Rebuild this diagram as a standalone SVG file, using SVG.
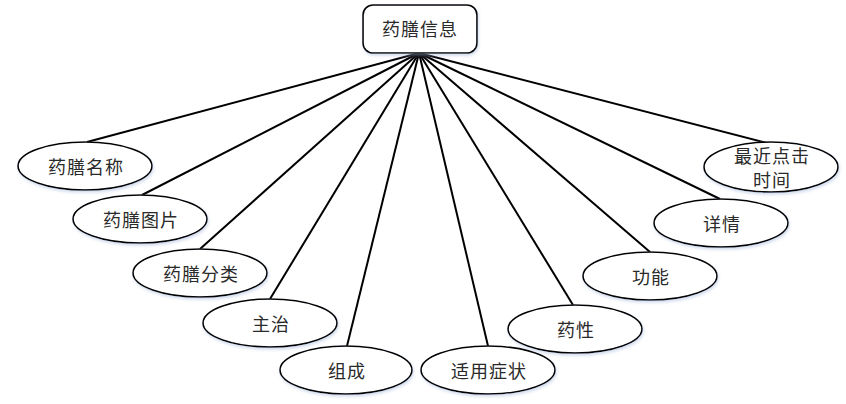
<svg xmlns="http://www.w3.org/2000/svg" width="846" height="404" viewBox="0 0 846 404">
<defs>
<filter id="sh" x="-10%" y="-20%" width="120%" height="150%">
<feDropShadow dx="1" dy="2" stdDeviation="1.5" flood-color="#9fb4d8" flood-opacity="0.45"/>
</filter>
</defs>
<style>
.n ellipse, .n rect { fill: #ffffff; stroke: #000000; stroke-width: 1.6; filter: url(#sh); }
.n text { font-family: "Noto Sans CJK SC", "Liberation Sans", sans-serif; font-size: 18px; fill: #2a2a2a; text-anchor: middle; dominant-baseline: central; letter-spacing: 1px; }
#edges line { stroke: #000000; stroke-width: 2; }
</style>
<rect width="846" height="404" fill="#ffffff"/>
<g id="edges">
<line x1="419" y1="53" x2="87" y2="142"/>
<line x1="419" y1="53" x2="142" y2="195"/>
<line x1="419" y1="53" x2="200" y2="249"/>
<line x1="419" y1="53" x2="270" y2="299"/>
<line x1="419" y1="53" x2="347" y2="346"/>
<line x1="419" y1="53" x2="488" y2="346"/>
<line x1="419" y1="53" x2="573" y2="305"/>
<line x1="419" y1="53" x2="650" y2="252"/>
<line x1="419" y1="53" x2="720" y2="199"/>
<line x1="419" y1="53" x2="767" y2="143"/>
</g>
<g id="root" class="n">
<rect x="363" y="5" width="114" height="48" rx="10" ry="10"/>
<text x="420" y="28">药膳信息</text>
</g>
<g id="n1" class="n"><ellipse cx="85" cy="166" rx="67" ry="24"/><text x="86" y="166">药膳名称</text></g>
<g id="n2" class="n"><ellipse cx="140" cy="219" rx="67" ry="24"/><text x="141" y="219">药膳图片</text></g>
<g id="n3" class="n"><ellipse cx="200" cy="273" rx="67" ry="24"/><text x="201" y="273">药膳分类</text></g>
<g id="n4" class="n"><ellipse cx="270" cy="323" rx="67" ry="24"/><text x="271" y="323">主治</text></g>
<g id="n5" class="n"><ellipse cx="346" cy="370" rx="66" ry="24"/><text x="347" y="370">组成</text></g>
<g id="n6" class="n"><ellipse cx="488" cy="370" rx="67" ry="24"/><text x="489" y="370">适用症状</text></g>
<g id="n7" class="n"><ellipse cx="575" cy="329" rx="67" ry="24"/><text x="576" y="329">药性</text></g>
<g id="n8" class="n"><ellipse cx="650" cy="276" rx="67" ry="24"/><text x="651" y="276">功能</text></g>
<g id="n9" class="n"><ellipse cx="721" cy="223" rx="67" ry="24"/><text x="722" y="223">详情</text></g>
<g id="n10" class="n"><ellipse cx="771" cy="167" rx="67" ry="25"/><text x="772" y="155">最近点击</text><text x="772" y="179">时间</text></g>
</svg>
